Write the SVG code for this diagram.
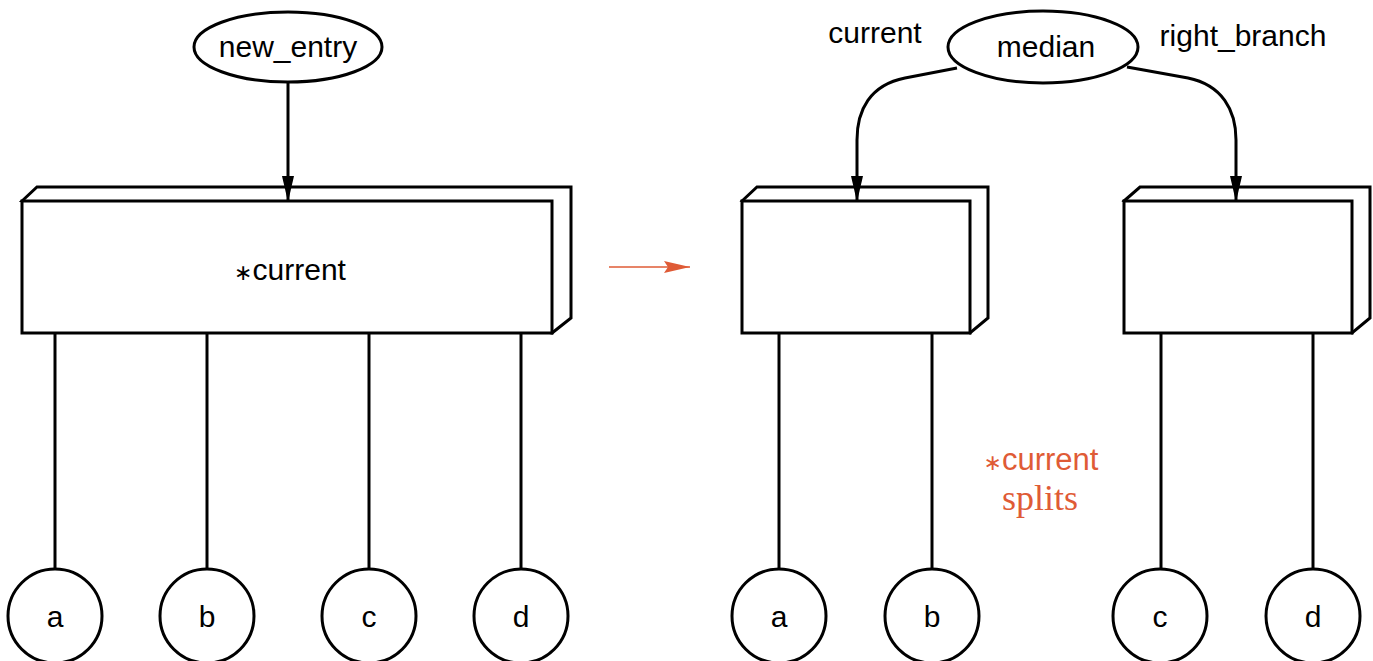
<svg xmlns="http://www.w3.org/2000/svg" width="1373" height="661" viewBox="0 0 1373 661">
<defs>
<style>
.ln{fill:none;stroke:#000;stroke-width:3}
.sh{fill:#fff;stroke:#000;stroke-width:3;stroke-linejoin:miter}
.lbl{font-family:"Liberation Sans",Arial,sans-serif;font-size:30px;fill:#000;text-anchor:middle}
.red{fill:#DF5B36;text-anchor:middle}
.star{font-family:"DejaVu Sans",sans-serif;font-size:22px}
</style>
<marker id="ah" viewBox="0 0 26 12" refX="25" refY="6" markerWidth="26" markerHeight="12" markerUnits="userSpaceOnUse" orient="auto">
<path d="M0,0 L26,6 L0,12 Z" fill="#000"/>
</marker>
<marker id="ahr" viewBox="0 0 26 12" refX="26" refY="6" markerWidth="26" markerHeight="12" markerUnits="userSpaceOnUse" orient="auto">
<path d="M0,0 L26,6 L0,12 L4,6 Z" fill="#DF5B36"/>
</marker>
</defs>
<rect width="1373" height="661" fill="#fff"/>

<g id="new_entry">
<ellipse class="sh" cx="288" cy="47" rx="94" ry="35"/>
<text class="lbl" x="288" y="57">new_entry</text>
</g>

<g id="box_left">
<path class="sh" d="M22,201 L37,187 L571,187 L571,318 L552,333 Z"/>
<rect class="sh" x="22" y="201" width="530" height="132"/>
<text class="lbl" x="290" y="280"><tspan class="star">∗</tspan>current</text>
</g>

<g id="median">
<ellipse class="sh" cx="1043" cy="47" rx="95" ry="36"/>
<text class="lbl" x="1046" y="57">median</text>
</g>
<g id="label_current"><text class="lbl" x="875" y="43">current</text></g>
<g id="label_right_branch"><text class="lbl" x="1243" y="46">right_branch</text></g>

<g id="box_mid">
<path class="sh" d="M742,201 L757,187 L988,187 L988,318 L970,333 Z"/>
<rect class="sh" x="742" y="201" width="228" height="132"/>
</g>

<g id="box_right">
<path class="sh" d="M1124,201 L1140,187 L1370,187 L1370,318 L1352,333 Z"/>
<rect class="sh" x="1124" y="201" width="228" height="132"/>
</g>

<g id="leaf_a1"><circle class="sh" cx="55" cy="616" r="47"/><text class="lbl" x="55" y="627">a</text></g>
<g id="leaf_b1"><circle class="sh" cx="207" cy="616" r="47"/><text class="lbl" x="207" y="627">b</text></g>
<g id="leaf_c1"><circle class="sh" cx="369" cy="616" r="47"/><text class="lbl" x="369" y="627">c</text></g>
<g id="leaf_d1"><circle class="sh" cx="521" cy="616" r="47"/><text class="lbl" x="521" y="627">d</text></g>
<g id="leaf_a2"><circle class="sh" cx="779" cy="616" r="47"/><text class="lbl" x="779" y="627">a</text></g>
<g id="leaf_b2"><circle class="sh" cx="932" cy="616" r="47"/><text class="lbl" x="932" y="627">b</text></g>
<g id="leaf_c2"><circle class="sh" cx="1160" cy="616" r="47"/><text class="lbl" x="1160" y="627">c</text></g>
<g id="leaf_d2"><circle class="sh" cx="1313" cy="616" r="47"/><text class="lbl" x="1313" y="627">d</text></g>

<g id="connectors">
<line class="ln" x1="288" y1="83" x2="288" y2="201" marker-end="url(#ah)"/>
<line class="ln" x1="55" y1="334" x2="55" y2="569"/>
<line class="ln" x1="207" y1="334" x2="207" y2="569"/>
<line class="ln" x1="369" y1="334" x2="369" y2="569"/>
<line class="ln" x1="521" y1="334" x2="521" y2="569"/>
<line class="ln" x1="779" y1="334" x2="779" y2="569"/>
<line class="ln" x1="932" y1="334" x2="932" y2="569"/>
<line class="ln" x1="1161" y1="334" x2="1161" y2="569"/>
<line class="ln" x1="1313" y1="334" x2="1313" y2="569"/>
<path class="ln" d="M957,68 L905,78 C870,85 857,110 857,140 L857,201" marker-end="url(#ah)"/>
<path class="ln" d="M1127,67 L1188,78 C1222,85 1236,110 1236,140 L1236,201" marker-end="url(#ah)"/>
<line x1="609" y1="267" x2="690" y2="267" stroke="#DF5B36" stroke-width="1.5" marker-end="url(#ahr)"/>
</g>

<g id="note">
<text class="red" x="1041" y="470" style="font-family:'Liberation Sans',sans-serif;font-size:31px"><tspan class="star">∗</tspan>current</text>
<text class="red" x="1040" y="510" style="font-family:'Liberation Serif',serif;font-size:36px">splits</text>
</g>
</svg>
